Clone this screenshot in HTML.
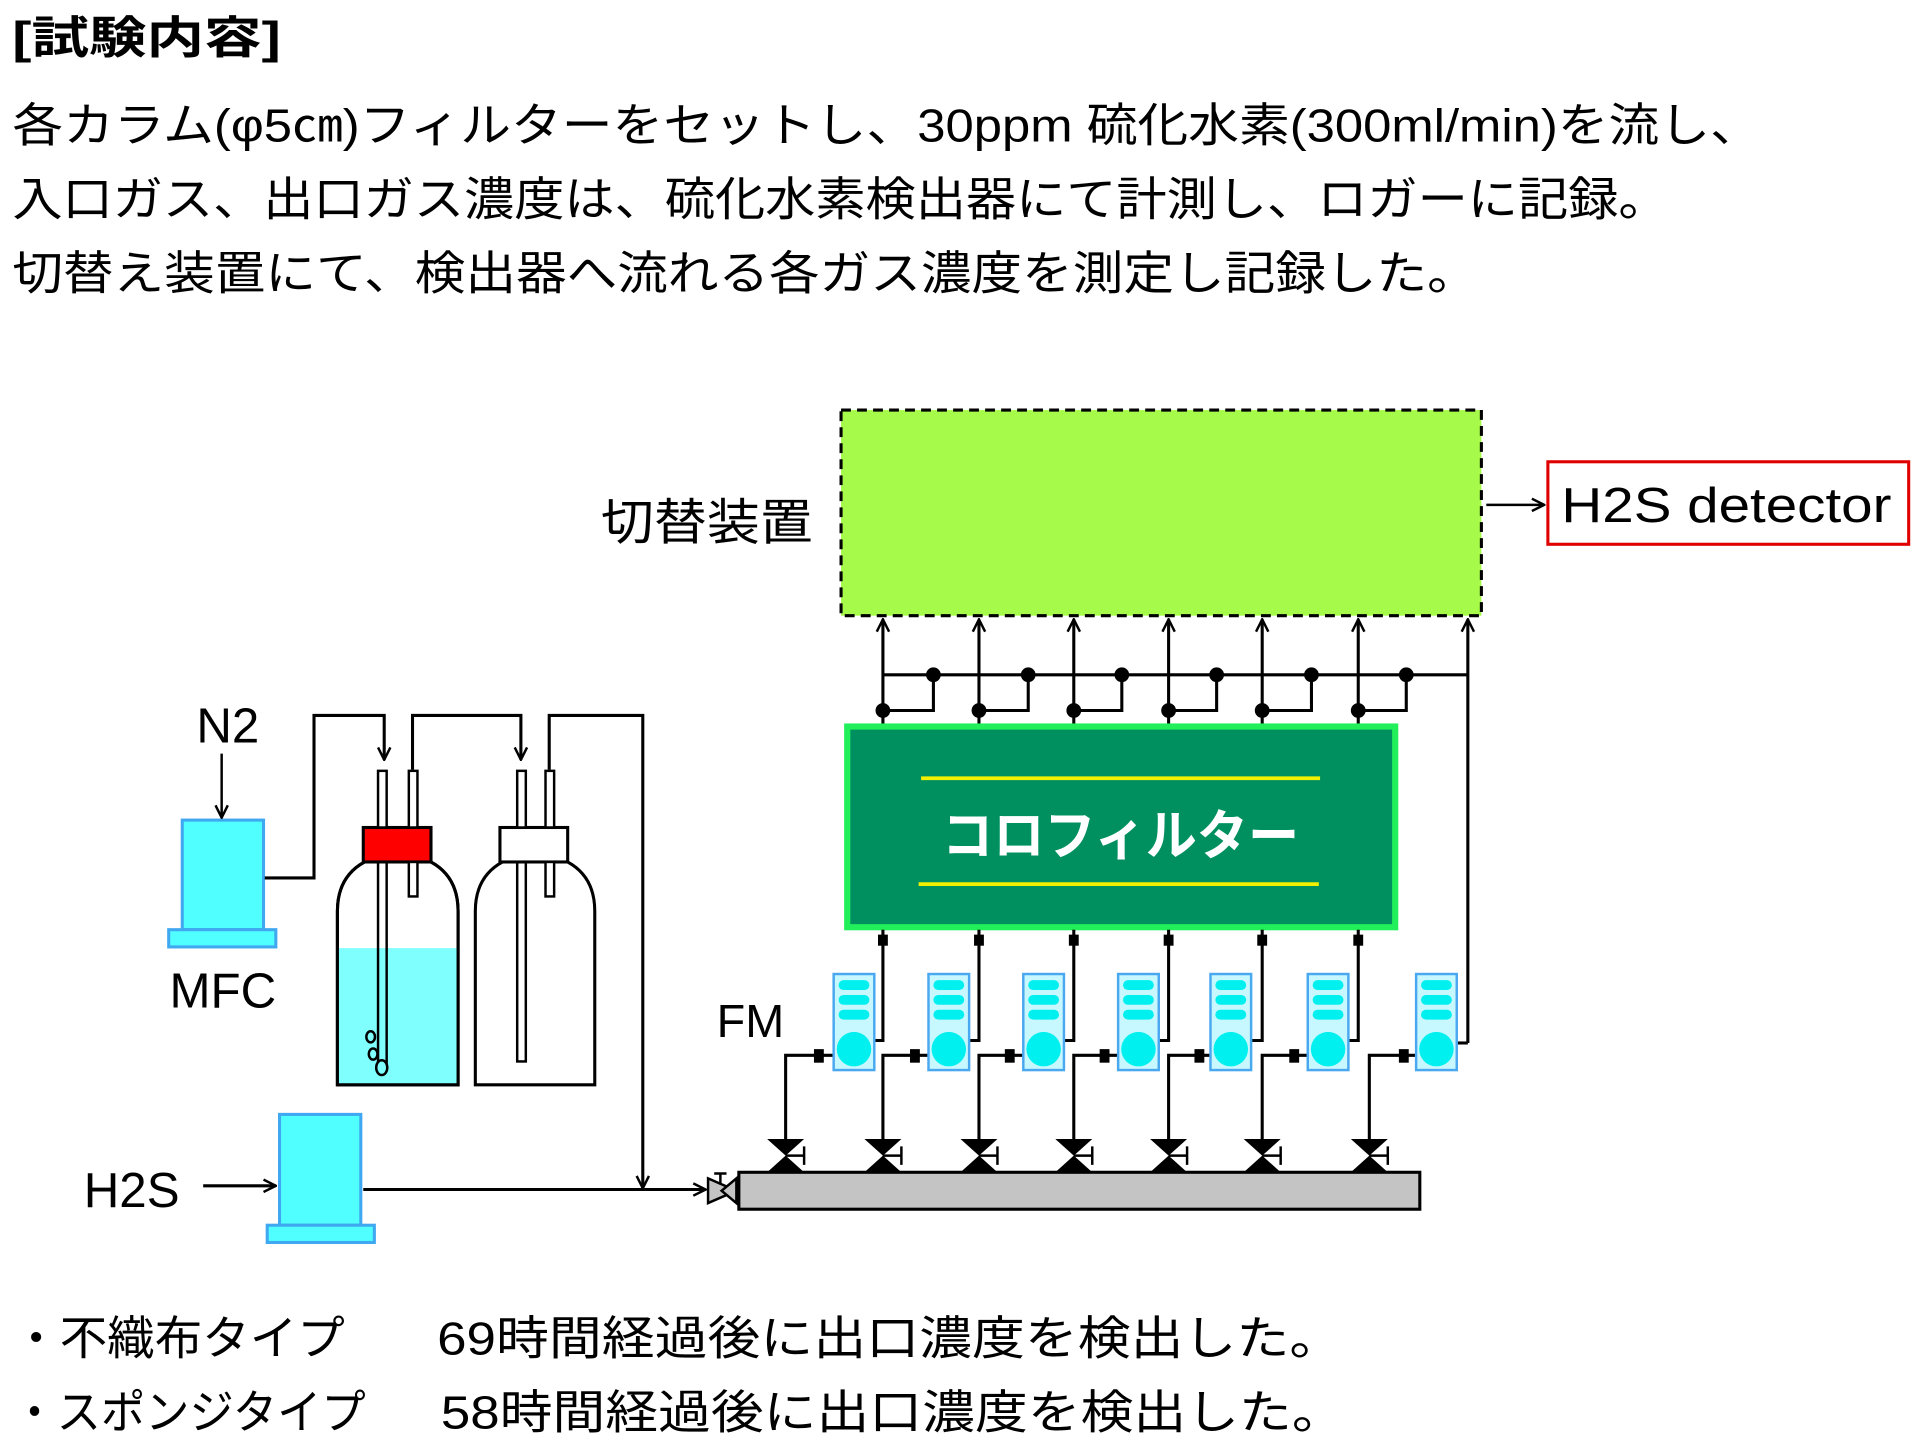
<!DOCTYPE html>
<html><head><meta charset="utf-8"><style>
html,body{margin:0;padding:0;background:#fff;}
svg{display:block}
text{font-family:"Liberation Sans","Noto Sans CJK JP",sans-serif;fill:#000}
</style></head><body>
<svg width="1921" height="1455" viewBox="0 0 1560 1181.6" preserveAspectRatio="none" xmlns="http://www.w3.org/2000/svg">
<defs>
<marker id="ah" viewBox="0 0 12 12" refX="11" refY="6" markerWidth="12" markerHeight="12" markerUnits="userSpaceOnUse" orient="auto">
<path d="M1,1 L11,6 L1,11" fill="none" stroke="#000" stroke-width="2"/>
</marker>
</defs>
<text x="10" y="43" font-size="36" font-weight="bold" textLength="218" lengthAdjust="spacingAndGlyphs">[試験内容]</text>
<text x="10" y="115" font-size="38" textLength="1420" lengthAdjust="spacingAndGlyphs">各カラム(φ5㎝)フィルターをセットし、30ppm 硫化水素(300ml/min)を流し、</text>
<text x="10" y="175" font-size="38" textLength="1345" lengthAdjust="spacingAndGlyphs">入口ガス、出口ガス濃度は、硫化水素検出器にて計測し、ロガーに記録。</text>
<text x="10" y="235" font-size="38" textLength="1190" lengthAdjust="spacingAndGlyphs">切替え装置にて、検出器へ流れる各ガス濃度を測定し記録した。</text>

<!-- switching device -->
<rect x="683" y="333" width="520" height="167" fill="#a6fb4a" stroke="#000" stroke-width="2.5" stroke-dasharray="8,5"/>
<text x="488" y="438" font-size="40" textLength="172" lengthAdjust="spacingAndGlyphs">切替装置</text>
<line x1="1207" y1="410" x2="1254" y2="410" stroke="#000" stroke-width="2" marker-end="url(#ah)"/>
<rect x="1257" y="375" width="293" height="67" fill="#fff" stroke="#e00000" stroke-width="2.5"/>
<text x="1268" y="424" font-size="40" textLength="268" lengthAdjust="spacingAndGlyphs">H2S detector</text>

<!-- connectors top -->
<g stroke="#000" stroke-width="2.5" fill="none">
<line x1="717" y1="548" x2="1192" y2="548"/>
<line x1="717" y1="588" x2="717" y2="503" marker-end="url(#ah)"/>
<line x1="795" y1="588" x2="795" y2="503" marker-end="url(#ah)"/>
<line x1="872" y1="588" x2="872" y2="503" marker-end="url(#ah)"/>
<line x1="949" y1="588" x2="949" y2="503" marker-end="url(#ah)"/>
<line x1="1025" y1="588" x2="1025" y2="503" marker-end="url(#ah)"/>
<line x1="1103" y1="588" x2="1103" y2="503" marker-end="url(#ah)"/>
<line x1="1192" y1="847" x2="1192" y2="503" marker-end="url(#ah)"/>
<path d="M758 548 V577 H717 M835 548 V577 H795 M911 548 V577 H872 M988 548 V577 H949 M1065 548 V577 H1025 M1142 548 V577 H1103"/>
</g>
<g fill="#000">
<circle cx="758" cy="548" r="6"/><circle cx="835" cy="548" r="6"/><circle cx="911" cy="548" r="6"/><circle cx="988" cy="548" r="6"/><circle cx="1065" cy="548" r="6"/><circle cx="1142" cy="548" r="6"/>
<circle cx="717" cy="577" r="6"/><circle cx="795" cy="577" r="6"/><circle cx="872" cy="577" r="6"/><circle cx="949" cy="577" r="6"/><circle cx="1025" cy="577" r="6"/><circle cx="1103" cy="577" r="6"/>
</g>

<!-- filter -->
<rect x="688" y="590" width="445" height="163" fill="#009060" stroke="#22f05a" stroke-width="5"/>
<line x1="748" y1="632" x2="1072" y2="632" stroke="#f0f000" stroke-width="3"/>
<line x1="746" y1="718" x2="1071" y2="718" stroke="#f0f000" stroke-width="3"/>
<text x="910" y="694" font-size="44" font-weight="bold" text-anchor="middle" style="fill:#fff" textLength="290" lengthAdjust="spacingAndGlyphs">コロフィルター</text>

<!-- filter to FM connections -->
<g stroke="#000" stroke-width="2.5" fill="none">
<path d="M717 755 V845 H710"/><path d="M795 755 V845 H787"/><path d="M872 755 V845 H864"/><path d="M949 755 V845 H941"/><path d="M1025 755 V845 H1016"/><path d="M1103 755 V845 H1095"/><path d="M1192 847 H1183"/>
<path d="M677 857 H638 V926"/><path d="M754 857 H717 V926"/><path d="M831 857 H795 V926"/><path d="M908 857 H872 V926"/><path d="M983 857 H949 V926"/><path d="M1062 857 H1025 V926"/><path d="M1150 857 H1112 V926"/>
</g>
<g fill="#000">
<rect x="713" y="759" width="8" height="9"/><rect x="791" y="759" width="8" height="9"/><rect x="868" y="759" width="8" height="9"/><rect x="945" y="759" width="8" height="9"/><rect x="1021" y="759" width="8" height="9"/><rect x="1099" y="759" width="8" height="9"/>
<rect x="661" y="852" width="8" height="11"/><rect x="739" y="852" width="8" height="11"/><rect x="816" y="852" width="8" height="11"/><rect x="893" y="852" width="8" height="11"/><rect x="970" y="852" width="8" height="11"/><rect x="1047" y="852" width="8" height="11"/><rect x="1136" y="852" width="8" height="11"/>
</g>

<!-- FM units -->
<g id="fm">
<rect x="677" y="791" width="33" height="78" fill="#c8f8ff" stroke="#4aa8f0" stroke-width="2"/>
<rect x="681" y="796" width="25" height="8" rx="4" fill="#00f0f0"/>
<rect x="681" y="808" width="25" height="8" rx="4" fill="#00f0f0"/>
<rect x="681" y="820" width="25" height="8" rx="4" fill="#00f0f0"/>
<circle cx="693.5" cy="852" r="14" fill="#00f0f0"/>
</g>
<use href="#fm" x="77"/><use href="#fm" x="154"/><use href="#fm" x="231"/><use href="#fm" x="306"/><use href="#fm" x="385"/><use href="#fm" x="473"/>
<text x="582" y="842" font-size="38">FM</text>

<!-- valves -->
<g id="v">
<polygon points="623,925 653,925 638,938.5" fill="#000"/>
<polygon points="623,952 653,952 638,938.5" fill="#000"/>
<path d="M638 938.5 H653 M653 931 V946" stroke="#000" stroke-width="2"/>
</g>
<use href="#v" x="79"/><use href="#v" x="157"/><use href="#v" x="234"/><use href="#v" x="311"/><use href="#v" x="387"/><use href="#v" x="474"/>
<rect x="600" y="952" width="553" height="30" fill="#c4c4c4" stroke="#000" stroke-width="2.5"/>
<!-- inlet valve -->
<polygon points="575,957 575,977 598,967" fill="#c4c4c4" stroke="#000" stroke-width="2"/>
<polygon points="598,957 598,977 586,967" fill="#c4c4c4" stroke="#000" stroke-width="2"/>
<path d="M580 953 H590 M585 953 V962" stroke="#000" stroke-width="2"/>

<!-- MFC1 -->
<rect x="148" y="666" width="66" height="89" fill="#50ffff" stroke="#40a8f0" stroke-width="2.5"/>
<rect x="137" y="755" width="87" height="14" fill="#50ffff" stroke="#40a8f0" stroke-width="2.5"/>
<text x="185" y="603" font-size="40" text-anchor="middle">N2</text>
<line x1="180" y1="612" x2="180" y2="664" stroke="#000" stroke-width="2" marker-end="url(#ah)"/>
<text x="181" y="818" font-size="40" text-anchor="middle">MFC</text>

<!-- MFC2 -->
<rect x="227" y="905" width="66" height="90" fill="#50ffff" stroke="#40a8f0" stroke-width="2.5"/>
<rect x="217" y="995" width="87" height="14" fill="#50ffff" stroke="#40a8f0" stroke-width="2.5"/>
<text x="68" y="980" font-size="40">H2S</text>
<line x1="165" y1="963" x2="224" y2="963" stroke="#000" stroke-width="2.5" marker-end="url(#ah)"/>
<line x1="295" y1="966" x2="573" y2="966" stroke="#000" stroke-width="2.5" marker-end="url(#ah)"/>

<!-- pipes -->
<g stroke="#000" stroke-width="2.5" fill="none">
<path d="M215 713 H255 V581 H312 V617" marker-end="url(#ah)"/>
<path d="M335 625 V581 H423 V617" marker-end="url(#ah)"/>
<path d="M446 625 V581 H522 V965" marker-end="url(#ah)"/>
</g>

<!-- bottle 1 -->
<path d="M274 881 V740 Q274 712 296 700 H350 Q372 712 372 740 V881 Z" fill="#fff" stroke="#000" stroke-width="2.5"/>
<path d="M275 770 H371 V880 H275 Z" fill="#80ffff"/>
<path d="M274 881 V740 Q274 712 296 700 H350 Q372 712 372 740 V881 Z" fill="none" stroke="#000" stroke-width="2.5"/>
<rect x="295" y="672" width="55" height="28" fill="#ff0000" stroke="#000" stroke-width="2.5"/>
<rect x="307" y="626" width="7" height="46" fill="#fff" stroke="#000" stroke-width="2"/>
<rect x="307" y="700" width="7" height="165" fill="none" stroke="#000" stroke-width="2"/>
<rect x="332" y="626" width="7" height="46" fill="#fff" stroke="#000" stroke-width="2"/>
<rect x="332" y="700" width="7" height="28" fill="#fff" stroke="#000" stroke-width="2"/>
<ellipse cx="301" cy="842" rx="3.5" ry="4.5" fill="#80ffff" stroke="#000" stroke-width="2"/>
<ellipse cx="303" cy="856" rx="3.5" ry="4.5" fill="#80ffff" stroke="#000" stroke-width="2"/>
<ellipse cx="310" cy="867" rx="4.5" ry="6" fill="#80ffff" stroke="#000" stroke-width="2"/>

<!-- bottle 2 -->
<path d="M386 881 V740 Q386 712 408 700 H461 Q483 712 483 740 V881 Z" fill="#fff" stroke="#000" stroke-width="2.5"/>
<rect x="406" y="672" width="55" height="28" fill="#fff" stroke="#000" stroke-width="2.5"/>
<rect x="420" y="626" width="7" height="46" fill="#fff" stroke="#000" stroke-width="2"/>
<rect x="420" y="700" width="7" height="162" fill="none" stroke="#000" stroke-width="2"/>
<rect x="443" y="626" width="7" height="46" fill="#fff" stroke="#000" stroke-width="2"/>
<rect x="443" y="700" width="7" height="28" fill="#fff" stroke="#000" stroke-width="2"/>

<!-- bottom text -->
<text x="10" y="1100" font-size="38" textLength="270" lengthAdjust="spacingAndGlyphs">・不織布タイプ</text>
<text x="355" y="1100" font-size="38" textLength="735" lengthAdjust="spacingAndGlyphs">69時間経過後に出口濃度を検出した。</text>
<text x="10" y="1160" font-size="38" textLength="287" lengthAdjust="spacingAndGlyphs">・スポンジタイプ</text>
<text x="358" y="1160" font-size="38" textLength="734" lengthAdjust="spacingAndGlyphs">58時間経過後に出口濃度を検出した。</text>
</svg>
</body></html>
